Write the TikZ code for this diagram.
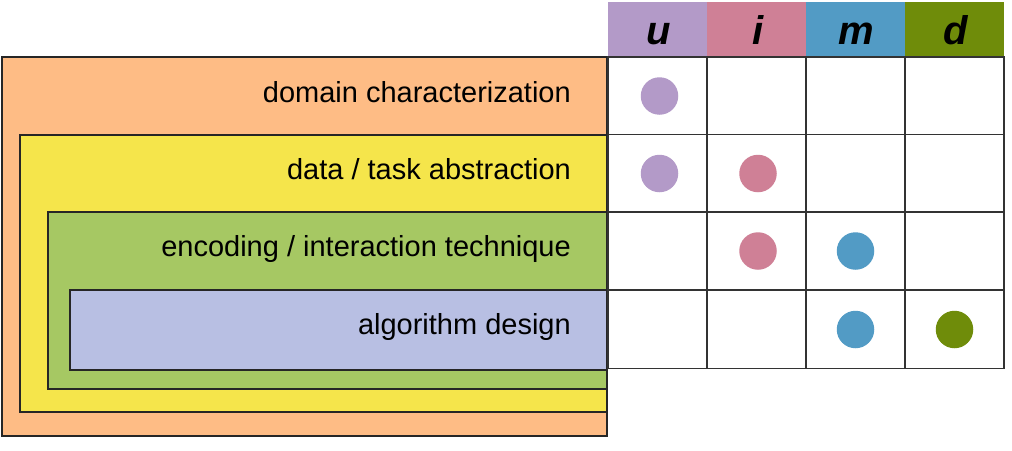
\documentclass[tikz,border=0pt]{standalone}
\usepackage{fontspec}
\setmainfont{Liberation Sans}
\begin{document}
\begin{tikzpicture}[x=1pt,y=-1pt,
  layer/.style={draw=black!85,line width=1.6pt,anchor=north west,inner sep=0pt,outer sep=0pt},
  cell/.style={draw=black!80,line width=1.5pt,minimum width=99pt,minimum height=78pt,inner sep=0pt,outer sep=0pt},
  head/.style={minimum width=99pt,minimum height=55pt,inner sep=0pt,outer sep=0pt},
  headtxt/.style={anchor=base,inner sep=0pt,font=\fontsize{40}{44}\selectfont\bfseries\itshape},
  lbl/.style={anchor=base east,inner sep=0pt,font=\fontsize{29}{34}\selectfont},
  dot/.style={circle,minimum size=37.5pt,inner sep=0pt}
]
\definecolor{cOrange}{HTML}{FEBC85}
\definecolor{cYellow}{HTML}{F5E54B}
\definecolor{cGreen}{HTML}{A6C863}
\definecolor{cBlue}{HTML}{B8BFE3}
\definecolor{cU}{HTML}{B39AC8}
\definecolor{cI}{HTML}{CF8096}
\definecolor{cM}{HTML}{529BC5}
\definecolor{cD}{HTML}{6F8C0A}
\useasboundingbox (0,0) rectangle (1012,450);

% nested levels
\node[layer,fill=cOrange,minimum width=605pt,minimum height=379pt] (lvl1) at (2,57) {};
\node[layer,fill=cYellow,minimum width=587pt,minimum height=277pt] (lvl2) at (20,135) {};
\node[layer,fill=cGreen,minimum width=559pt,minimum height=177pt] (lvl3) at (48,212) {};
\node[layer,fill=cBlue,minimum width=537pt,minimum height=80pt] (lvl4) at (70,290) {};

\node[lbl] (t1) at (571,102) {domain characterization};
\node[lbl] (t2) at (571,179) {data / task abstraction};
\node[lbl] (t3) at (571,256) {encoding / interaction technique};
\node[lbl] (t4) at (571,334) {algorithm design};

% column headers
\node[head,fill=cU] (hu) at (657.5,29.5) {};
\node[head,fill=cI] (hi) at (756.5,29.5) {};
\node[head,fill=cM] (hm) at (855.5,29.5) {};
\node[head,fill=cD] (hd) at (954.5,29.5) {};
\node[headtxt] (lu) at (659,44) {u};
\node[headtxt] (li) at (758,44) {i};
\node[headtxt] (lm) at (856,44) {m};
\node[headtxt] (ld) at (956,44) {d};

% grid
\foreach \r/\y in {1/96,2/173.5,3/251,4/329.5}{
  \foreach \c/\x in {1/657.5,2/756.5,3/855.5,4/954.5}{
    \node[cell,fill=white] (c\r\c) at (\x,\y) {};
  }
}

% marks
\node[dot,fill=cU] (d11) at ([xshift=2pt]c11) {};
\node[dot,fill=cU] (d21) at ([xshift=2pt]c21) {};
\node[dot,fill=cI] (d22) at ([xshift=1.5pt]c22) {};
\node[dot,fill=cI] (d32) at ([xshift=1.5pt]c32) {};
\node[dot,fill=cM] (d33) at (c33) {};
\node[dot,fill=cM] (d43) at (c43) {};
\node[dot,fill=cD] (d44) at (c44) {};
\end{tikzpicture}
\end{document}
